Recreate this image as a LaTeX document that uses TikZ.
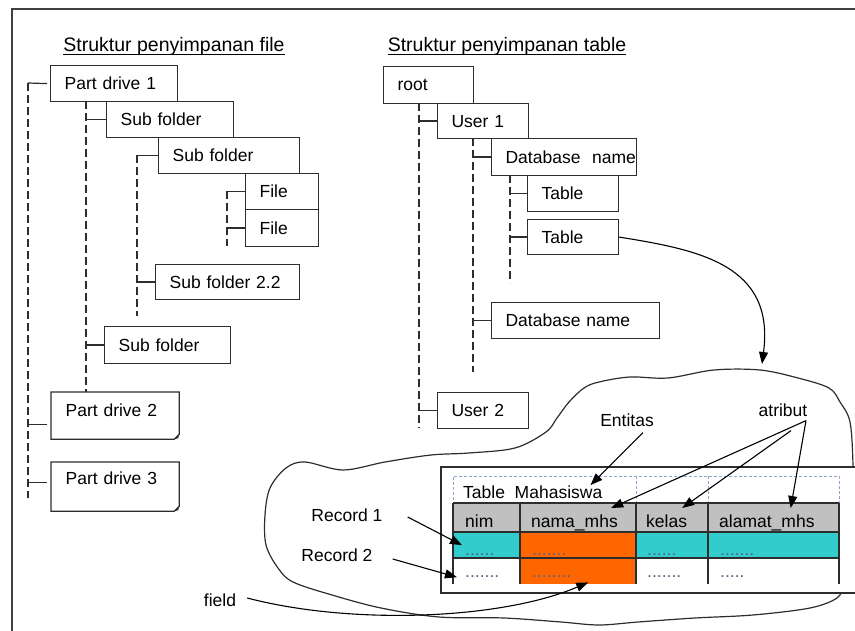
\documentclass[tikz,border=0pt]{standalone}
\usepackage{fontspec}
\setmainfont{Liberation Sans}
\usetikzlibrary{arrows.meta}
\definecolor{ink}{RGB}{45,45,45}
\definecolor{hdrgray}{RGB}{192,192,192}
\definecolor{reccyan}{RGB}{51,204,204}
\definecolor{fldorange}{RGB}{255,102,0}
\definecolor{dashblue}{RGB}{140,165,205}
\definecolor{dotgray}{RGB}{90,100,130}
\newcommand{\boxfont}{\fontsize{17.5}{21}\selectfont}
\newcommand{\ttlfont}{\fontsize{19.5}{23}\selectfont}
\tikzset{
  box/.style={draw=ink,line width=1.2pt,anchor=north west,inner xsep=14pt,inner ysep=0pt,
              minimum height=36pt,align=left,font=\boxfont},
  trunk/.style={draw=ink,line width=1.2pt,dash pattern=on 8pt off 4pt},
  tick/.style={draw=ink,line width=1.2pt},
  lbl/.style={font=\boxfont,inner sep=0pt},
  dots/.style={font=\boxfont,inner sep=0pt,anchor=base west,text=dotgray},
  cell/.style={anchor=north west,inner sep=0pt,minimum height=26pt},
  grid/.style={draw=ink,line width=1.6pt},
  pointer/.style={draw=black,line width=1.1pt,->},
}
\begin{document}
\begin{tikzpicture}[x=1pt,y=-1pt,>={Triangle[length=12pt,width=9pt]}]
\useasboundingbox(0,0)rectangle(855,631);
%frame
\draw[line width=2pt,draw=black!75](12,632)--(12,9)--(856,9);
%titles
\node[lbl,font=\ttlfont,anchor=base](ttlfile)at(174,52){Struktur penyimpanan file};
\node[lbl,font=\ttlfont,anchor=base](ttltab)at(507,52){Struktur penyimpanan table};
\draw[line width=0.9pt]([yshift=-2pt]ttlfile.base west)--([yshift=-2pt]ttlfile.base east);
\draw[line width=0.9pt]([yshift=-2pt]ttltab.base west)--([yshift=-2pt]ttltab.base east);
%file tree
\node[box,text width=99pt](pd1)at(50,65){Part drive 1};
\node[box,text width=99pt](sf1)at(106,101){Sub folder};
\node[box,text width=113pt](sf2)at(158,137){Sub folder};
\node[box,text width=45pt](fa)at(245,173){File};
\node[box,text width=45pt,minimum height=37pt](fb)at(245,209){File};
\node[box,text width=116pt,minimum height=35pt](sf22)at(155,264){Sub folder 2.2};
\node[box,text width=98pt,minimum height=37pt](sf3)at(104,326){Sub folder};
\node[box,draw=none,text width=99pt,minimum height=46pt,text height=24pt,text depth=22pt](pd2)at(51,392){Part drive 2};
\node[box,draw=none,text width=99pt,minimum height=48pt,text height=22pt,text depth=26pt](pd3)at(51,462){Part drive 3};
\foreach \d in {pd2,pd3}{
\draw[tick](\d.north west)--(\d.north east)--([yshift=5pt]\d.south east)--([xshift=-5pt]\d.south east)--(\d.south west)--cycle;
\fill[ink]([yshift=5pt]\d.south east)--([xshift=-5pt]\d.south east)--([xshift=-1pt,yshift=1pt]\d.south east)--cycle;
}
%file tree trunks
\coordinate(t1a)at(28,83);\coordinate(t1b)at(28,498);
\coordinate(t2a)at(86,101);\coordinate(t2b)at(86,392);
\coordinate(t3a)at(137,155);\coordinate(t3b)at(137,316);
\coordinate(t4a)at(227,191);\coordinate(t4b)at(227,246);
\draw[trunk](t1a)--(t1b);
\draw[trunk](t2a)--(t2b);
\draw[trunk](t3a)--(t3b);
\draw[trunk](t4a)--(t4b);
\coordinate(k2)at([yshift=-9pt]pd2.west);
\coordinate(k3)at([yshift=4pt]pd3.west);
\draw[tick](t1a)--([xshift=-3pt]pd1.west);
\draw[tick](k2-|t1a)--([xshift=-4pt]k2);
\draw[tick](k3-|t1a)--([xshift=-4pt]k3);
\draw[tick](sf1.west-|t2a)--(sf1.west);
\draw[tick](sf3.west-|t2a)--(sf3.west);
\draw[tick](sf2.west-|t3a)--(sf2.west);
\draw[tick](sf22.west-|t3a)--(sf22.west);
\draw[tick](fa.west-|t4a)--(fa.west);
\draw[tick](fb.west-|t4a)--(fb.west);
%table tree
\node[box,text width=62pt,minimum height=37pt](root)at(383,66){root};
\node[box,text width=63pt,minimum height=35pt](usr1)at(437,103){User 1};
\node[box,text width=117pt,minimum height=37pt](db1)at(491,138){\mbox{Database\ \ name}};
\node[box,text width=63pt](tb1)at(527,175){Table};
\node[box,text width=63pt,minimum height=35pt](tb2)at(527,219){Table};
\node[box,text width=140pt](db2)at(491,302){Database name};
\node[box,text width=63pt](usr2)at(437,392){User 2};
\coordinate(tAa)at(419,103);\coordinate(tAb)at(419,428);
\coordinate(tBa)at(473,138);\coordinate(tBb)at(473,372);
\coordinate(tCa)at(510,175);\coordinate(tCb)at(510,283);
\draw[trunk](tAa)--(tAb);
\draw[trunk](tBa)--(tBb);
\draw[trunk](tCa)--(tCb);
\draw[tick](usr1.west-|tAa)--(usr1.west);
\draw[tick](usr2.west-|tAa)--(usr2.west);
\draw[tick](db1.west-|tBa)--(db1.west);
\draw[tick](db2.west-|tBa)--(db2.west);
\draw[tick](tb1.west-|tCa)--(tb1.west);
\draw[tick](tb2.west-|tCa)--(tb2.west);
%cloud
\draw[ink,line width=1.2pt]plot[smooth cycle,tension=0.55]coordinates{
(760,370)(798,378)(829,388)(840,402)(850,422)(853,465)(853,520)(852,570)(844,585)(837,598)
(810,608)(753,615)(695,618)(638,622)(599,625)(561,622)(504,618)(439,617)(381,608)(332,595)
(293,582)(278,568)(266,545)(265,515)(270,488)(286,468)(305,462)(343,470)(385,462)(431,455)
(469,453)(515,448)(546,432)(557,418)(569,402)(584,388)(599,382)(630,377)(668,378)(714,370)};
\coordinate(cloudtop)at(762,364);
\draw[pointer](tb2.east) .. controls (700,250) and (775,265) .. (cloudtop);
%table
\filldraw[fill=white,draw=ink,line width=1.2pt](441,467)rectangle(870,593);
\node[draw=dashblue,dash pattern=on 3pt off 2pt,line width=0.8pt,anchor=north west,
      minimum width=386pt,minimum height=27pt,inner sep=0pt](tarea)at(453,476){};
\foreach \x in {636,708}{\draw[dashblue,line width=0.8pt,dash pattern=on 3pt off 2pt](\x,476)--(\x,503);}
\foreach \c/\xa/\w in {1/453/67,2/520/116,3/636/72,4/708/131}{
\node[cell,fill=hdrgray,minimum width=\w pt,minimum height=29pt](h\c)at(\xa,503){};
\node[cell,fill=reccyan,minimum width=\w pt](a\c)at(\xa,532){};
\node[cell,minimum width=\w pt](b\c)at(\xa,558){};
}
\fill[fldorange](a2.north west)rectangle(b2.south east);
\draw[grid](453,503)--(839,503);
\draw[grid](453,532)--(839,532);
\draw[grid](453,558)--(839,558);
\foreach \x in {453,520,636,708,839}{\draw[grid](\x,503)--(\x,584);}
\node[lbl,anchor=base west](tmhs)at(463,498){Table\ \ Mahasiswa};
\node[lbl,anchor=base west](tnim)at(465,527){nim};
\node[lbl,anchor=base west](tnama)at(531,527){nama\_mhs};
\node[lbl,anchor=base west](tkel)at(646,527){kelas};
\node[lbl,anchor=base west](talm)at(719,527){alamat\_mhs};
%dots
\node[dots](p1)at(465,555){......};
\node[dots](p2)at(532,555){.......};
\node[dots](p3)at(647,555){......};
\node[dots](p4)at(720,555){.......};
\node[dots](q1)at(465,577){.......};
\node[dots](q2)at(532,577){........};
\node[dots](q3)at(647,577){.......};
\node[dots](q4)at(720,577){.....};
%labels
\node[lbl](ent)at(627,420){Entitas};
\node[lbl](atr)at(783,410){atribut};
\node[lbl](rec1)at(347,515){Record 1};
\node[lbl](rec2)at(337,555){Record 2};
\node[lbl](fld)at(220,600){field};
\draw[pointer]([xshift=16pt,yshift=-6pt]ent.south)--([xshift=-12pt]tmhs.north east);
\draw[pointer]([xshift=23pt,yshift=-4pt]atr.south)--([xshift=33pt,yshift=-5pt]h2.north);
\draw[pointer]([xshift=8pt,yshift=-14pt]atr.south)--([xshift=10pt,yshift=-5pt]h3.north);
\draw[pointer]([xshift=23pt,yshift=-4pt]atr.south)--([xshift=17pt,yshift=-5pt]h4.north);
\draw[pointer]([xshift=25pt,yshift=-2pt]rec1.east)--([xshift=9pt]a1.west);
\draw[pointer]([xshift=20pt,yshift=-4pt]rec2.east)--([xshift=4pt,yshift=-6pt]b1.west);
\draw[pointer]([xshift=11pt,yshift=2pt]fld.east) .. controls (350,625) and (500,620) .. ([xshift=10pt,yshift=2pt]b2.south);
\end{tikzpicture}
\end{document}
